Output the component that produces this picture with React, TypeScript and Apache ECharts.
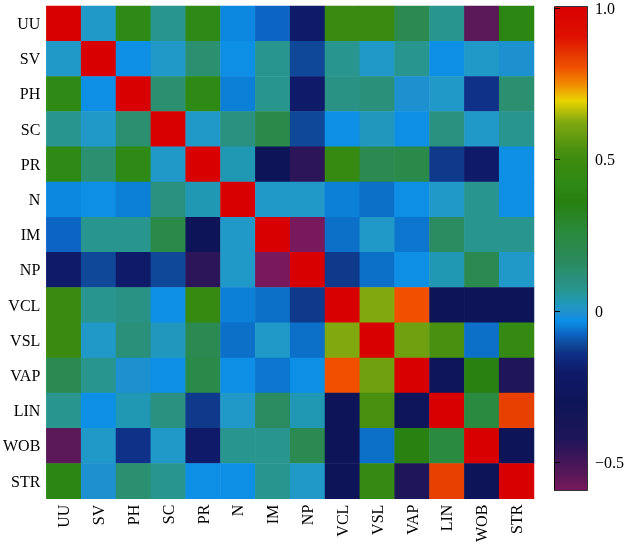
import React, { useEffect, useRef } from "react";
import * as echarts from "echarts";

const categories = ["UU", "SV", "PH", "SC", "PR", "N", "IM", "NP", "VCL", "VSL", "VAP", "LIN", "WOB", "STR"];

const rowUU = [1, 0.01, 0.42, 0.07, 0.42, -0.04, -0.075, -0.2, 0.48, 0.48, 0.2, 0.07, -0.54, 0.4];
const rowSV = [0.01, 1, -0.03, 0.01, 0.13, -0.03, 0.07, -0.11, 0.07, 0.01, 0.07, -0.03, 0.01, -0.01];
const rowPH = [0.42, -0.03, 1, 0.13, 0.42, -0.05, 0.07, -0.2, 0.09, 0.11, -0.01, 0.01, -0.14, 0.13];
const rowSC = [0.07, 0.01, 0.13, 1, 0.01, 0.1, 0.22, -0.11, -0.03, 0.02, -0.03, 0.1, 0.01, 0.07];
const rowPR = [0.42, 0.13, 0.42, 0.01, 1, 0.03, -0.3, -0.45, 0.46, 0.2, 0.22, -0.13, -0.2, -0.03];
const rowN = [-0.04, -0.03, -0.05, 0.1, 0.03, 1, 0.01, 0.01, -0.05, -0.065, -0.03, 0.01, 0.07, -0.03];
const rowIM = [-0.075, 0.07, 0.07, 0.22, -0.3, 0.01, 1, -0.59, -0.065, 0.01, -0.06, 0.16, 0.07, 0.07];
const rowNP = [-0.2, -0.11, -0.2, -0.11, -0.45, 0.01, -0.59, 1, -0.13, -0.065, -0.03, 0.03, 0.2, 0.01];
const rowVCL = [0.48, 0.07, 0.09, -0.03, 0.46, -0.05, -0.065, -0.13, 1, 0.62, 0.8, -0.3, -0.3, -0.3];
const rowVSL = [0.48, 0.01, 0.11, 0.02, 0.2, -0.065, 0.01, -0.065, 0.62, 1, 0.59, 0.53, -0.065, 0.45];
const rowVAP = [0.2, 0.07, -0.01, -0.03, 0.22, -0.03, -0.06, -0.03, 0.8, 0.59, 1, -0.28, 0.37, -0.42];
const rowLIN = [0.07, -0.03, 0.03, 0.1, -0.13, 0.01, 0.16, 0.03, -0.3, 0.53, -0.28, 1, 0.25, 0.83];
const rowWOB = [-0.54, 0.01, -0.14, 0.01, -0.2, 0.07, 0.07, 0.2, -0.3, -0.065, 0.37, 0.25, 1, -0.3];
const rowSTR = [0.4, -0.01, 0.13, 0.07, -0.03, -0.03, 0.07, 0.01, -0.3, 0.45, -0.42, 0.83, -0.3, 1];

const matrix = [rowUU, rowSV, rowPH, rowSC, rowPR, rowN, rowIM, rowNP, rowVCL, rowVSL, rowVAP, rowLIN, rowWOB, rowSTR];

const colorbarTicks = [-0.5, 0, 0.5, 1];
const VMIN = -0.59;
const VMAX = 1.0;

// colour ramp (style)
const rampStops: [number, string][] = [
  [-0.59, "#78195c"],
  [-0.54, "#5a1858"],
  [-0.45, "#2c1558"],
  [-0.42, "#1e1658"],
  [-0.3, "#0e1458"],
  [-0.2, "#0f1a68"],
  [-0.14, "#0f3088"],
  [-0.13, "#0f3a8a"],
  [-0.11, "#0f4898"],
  [-0.08, "#0c60c0"],
  [-0.065, "#0c70c8"],
  [-0.05, "#0c80d8"],
  [-0.03, "#0c90e8"],
  [-0.01, "#1e90d0"],
  [0.01, "#2098c8"],
  [0.03, "#2098b4"],
  [0.07, "#28968e"],
  [0.1, "#2a9080"],
  [0.13, "#2a9070"],
  [0.16, "#2a8a60"],
  [0.2, "#2a8a50"],
  [0.25, "#2a8a40"],
  [0.36, "#288010"],
  [0.42, "#2e8a14"],
  [0.48, "#3a8a10"],
  [0.53, "#4a9010"],
  [0.59, "#70a010"],
  [0.62, "#80a810"],
  [0.69, "#e8d400"],
  [0.74, "#f09000"],
  [0.8, "#f05000"],
  [0.83, "#e84000"],
  [0.9, "#de1000"],
  [1.0, "#d80000"],
];

function hexToRgb(h: string) {
  const n = parseInt(h.slice(1), 16);
  return [(n >> 16) & 255, (n >> 8) & 255, n & 255];
}
function rgbToHex(c: number[]) {
  return "#" + c.map((x) => Math.round(x).toString(16).padStart(2, "0")).join("");
}
function rampColor(v: number) {
  if (v <= rampStops[0][0]) return rampStops[0][1];
  for (let i = 1; i < rampStops.length; i++) {
    const [v1, c1] = rampStops[i];
    const [v0, c0] = rampStops[i - 1];
    if (v <= v1) {
      const t = (v - v0) / (v1 - v0);
      const a = hexToRgb(c0);
      const b = hexToRgb(c1);
      return rgbToHex(a.map((x, k) => x + (b[k] - x) * t));
    }
  }
  return rampStops[rampStops.length - 1][1];
}

const FONT = "'Liberation Serif', 'Times New Roman', serif";

export default function App() {
  const ref = useRef<HTMLDivElement>(null);
  useEffect(() => {
    if (!ref.current) return;
    const chart = echarts.init(ref.current, null, { renderer: "svg" });

    const data: [number, number, number][] = [];
    matrix.forEach((row, r) => row.forEach((v, c) => data.push([c, r, v])));

    const N = 320;
    const colors: string[] = [];
    for (let i = 0; i <= N; i++) colors.push(rampColor(VMIN + ((VMAX - VMIN) * i) / N));

    const gradStops = rampStops
      .map(([v, c]) => ({ offset: (VMAX - v) / (VMAX - VMIN), color: c }))
      .sort((a, b) => a.offset - b.offset);

    const barLeft = 554;
    const barTop = 6;
    const barW = 33;
    const barH = 484;

    chart.setOption({
      animation: false,
      textStyle: { fontFamily: FONT },
      grid: [
        { left: 44, top: 6, width: 490, height: 495 },
        { left: barLeft, top: barTop, width: barW, height: barH },
      ],
      xAxis: [
        {
          type: "category",
          data: categories,
          gridIndex: 0,
          axisLine: { show: false },
          axisTick: { show: false },
          splitLine: { show: false },
          axisLabel: { rotate: 90, margin: 6, fontSize: 16, color: "#000", fontFamily: FONT },
        },
        { type: "value", gridIndex: 1, show: false, min: 0, max: 1 },
      ],
      yAxis: [
        {
          type: "category",
          data: categories,
          inverse: true,
          gridIndex: 0,
          axisLine: { show: false },
          axisTick: { show: false },
          splitLine: { show: false },
          axisLabel: { margin: 6, fontSize: 16, color: "#000", fontFamily: FONT },
        },
        {
          type: "value",
          gridIndex: 1,
          position: "right",
          min: VMIN,
          max: VMAX,
          axisLine: { show: true, lineStyle: { color: "#000", width: 1 } },
          axisTick: { show: true, length: 6, inside: false, customValues: colorbarTicks, lineStyle: { color: "#000" } },
          splitLine: { show: false },
          axisLabel: {
            customValues: colorbarTicks,
            margin: 14,
            fontSize: 16,
            color: "#000",
            fontFamily: FONT,
            formatter: (v: number) => (v === 1 ? "1.0" : v === 0 ? "0" : v < 0 ? "\u2212" + Math.abs(v) : String(v)),
          },
        },
      ],
      visualMap: {
        show: false,
        min: VMIN,
        max: VMAX,
        dimension: 2,
        seriesIndex: 0,
        inRange: { color: colors },
      },
      graphic: [
        {
          type: "rect",
          left: barLeft,
          top: barTop,
          shape: { width: barW, height: barH },
          style: {
            fill: {
              type: "linear",
              x: 0,
              y: 0,
              x2: 0,
              y2: 1,
              colorStops: gradStops,
            },
            stroke: "#333",
            lineWidth: 1,
          },
          z: -1,
        },
      ],
      series: [
        {
          type: "heatmap",
          xAxisIndex: 0,
          yAxisIndex: 0,
          data,
          itemStyle: { borderWidth: 0 },
          emphasis: { disabled: true },
        },
        { type: "scatter", xAxisIndex: 1, yAxisIndex: 1, data: [] },
      ],
    });
    return () => chart.dispose();
  }, []);
  return <div ref={ref} style={{ position: "fixed", left: 0, top: 0, width: 627, height: 545 }} />;
}
